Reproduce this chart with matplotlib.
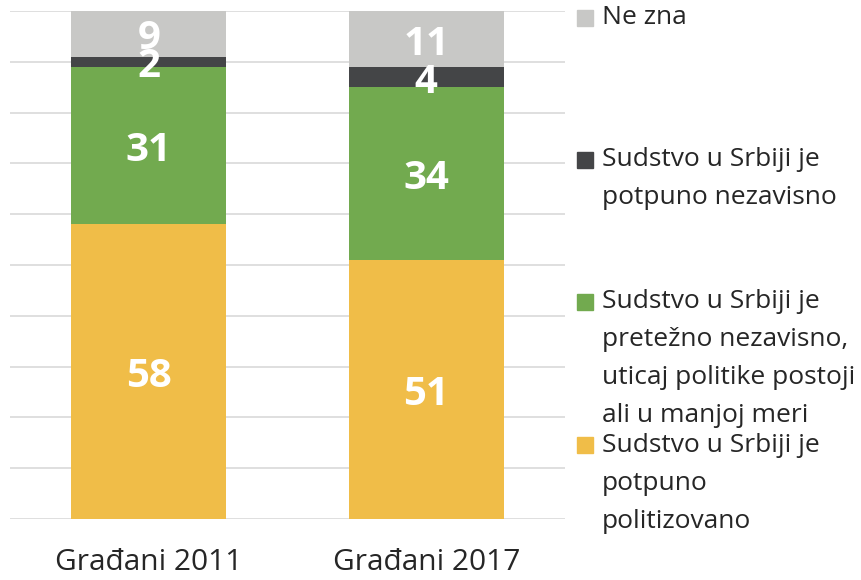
import numpy as np
import matplotlib
matplotlib.use("Agg")
import matplotlib.pyplot as plt
from matplotlib.patches import Rectangle

plt.rcParams['font.family'] = ['Open Sans', 'DejaVu Sans']

# --- data
groups = ["Građani 2011", "Građani 2017"]
politizovano = [58, 51]
pretezno = [31, 34]
nezavisno = [2, 4]
ne_zna = [9, 11]

series = [politizovano, pretezno, nezavisno, ne_zna]
colors = ["#F0BD48", "#72AA4F", "#444547", "#C8C8C6"]
legend_labels = [
    "Ne zna",
    "Sudstvo u Srbiji je\npotpuno nezavisno",
    "Sudstvo u Srbiji je\npretežno nezavisno,\nuticaj politike postoji\nali u manjoj meri",
    "Sudstvo u Srbiji je\npotpuno\npolitizovano",
]
legend_colors = ["#C8C8C6", "#444547", "#72AA4F", "#F0BD48"]

W, H = 862, 580
fig = plt.figure(figsize=(W / 100, H / 100), dpi=100)
ax = fig.add_axes([10 / W, 1 - 519 / H, 555 / W, 508 / H])

x = np.arange(len(groups))
bottom = np.zeros(len(groups))
for vals, col in zip(series, colors):
    vals = np.array(vals, dtype=float)
    ax.bar(x, vals, bottom=bottom, width=0.56, color=col, zorder=2)
    for xi, b, v in zip(x, bottom, vals):
        ax.text(xi, b + v / 2 - 1.0, f"{int(v)}", ha="center", va="center",
                color="white", fontsize=29, fontweight="bold", zorder=3)
    bottom += vals

ax.set_xlim(-0.5, 1.5)
ax.set_ylim(0, 100)
ax.set_yticks(np.arange(0, 101, 10))
ax.yaxis.grid(True, color="#D9D9D9", linewidth=1.2, zorder=0)
ax.set_axisbelow(True)
ax.tick_params(axis="y", left=False, labelleft=False)
ax.tick_params(axis="x", length=0, pad=21, labelsize=21.5, labelcolor="#262626")
ax.set_xticks(x)
ax.set_xticklabels(groups)
for s in ax.spines.values():
    s.set_visible(False)

# --- legend (drawn manually to match layout)
entry_top = [18, 160, 302, 445]  # y centre of first line, pixels from top
line_h = 38
for lbl, col, yc in zip(legend_labels, legend_colors, entry_top):
    fig.patches.append(Rectangle(((577) / W, 1 - (yc + 8) / H), 16 / W, 16 / H,
                                 transform=fig.transFigure, color=col))
    for i, line in enumerate(lbl.split("\n")):
        fig.text(602 / W, 1 - (yc + i * line_h) / H, line, ha="left", va="center",
                 fontsize=19, color="#262626")

fig.savefig("out.png", dpi=100)
